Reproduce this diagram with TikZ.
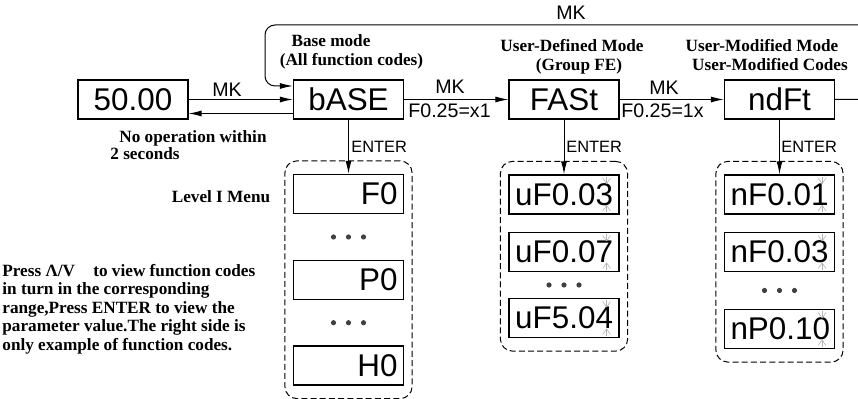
\documentclass[tikz,border=0pt]{standalone}
\usepackage{fontspec}
\setmainfont{Liberation Serif}
\setsansfont{Liberation Sans}
\usetikzlibrary{arrows.meta,calc,fit}

\tikzset{
  lcd/.style={draw, line width=0.6pt, minimum width=55pt, minimum height=19.5pt,
    inner sep=0pt, font=\sffamily\fontsize{15.7}{16}\selectfont},
  cell/.style={lcd, text width=49pt, align=right, inner xsep=3pt},
  grp/.style={draw, dash pattern=on 3pt off 1.6pt, rounded corners=6pt,
    inner xsep=4pt, inner ysep=6.5pt, line width=0.5pt},
  arr/.style={-{Latex[length=6.5pt,width=3pt]}, line width=0.5pt},
  key/.style={font=\sffamily\fontsize{9.8}{10}\selectfont, inner sep=0pt},
  cond/.style={font=\sffamily\fontsize{9.8}{10}\selectfont, inner sep=0pt},
  enter/.style={font=\sffamily\fontsize{8.2}{9}\selectfont, inner sep=0pt},
  note/.style={font=\bfseries\fontsize{8.6}{9.2}\selectfont, inner sep=0pt},
  blinkray/.style={line width=0.3pt, gray!60},
  dotc/.style={black!75}
}

\begin{document}
\begin{tikzpicture}[x=0.5pt,y=-0.5pt]
  \useasboundingbox (0,0) rectangle (858,399);

  % Displays of the top row
  \node[lcd] (disp) at (133,99.5) {50.00};
  \node[lcd] (bASE) at (348.5,99.5) {bASE};
  \node[lcd] (FASt) at (564,99.5) {FASt};
  \node[lcd] (ndFt) at (779.5,99.5) {ndFt};

  % Mode captions
  \node[note,anchor=base] (capB1) at (331,46.7) {Base mode};
  \node[note,anchor=base] (capB2) at (351.5,65.5) {(All function codes)};
  \node[note,anchor=base] (capU1) at (572,52) {User-Defined Mode};
  \node[note,anchor=base] (capU2) at (579,70.5) {(Group FE)};
  \node[note,anchor=base] (capM1) at (762,52) {User-Modified Mode};
  \node[note,anchor=base] (capM2) at (770,70.5) {User-Modified Codes};

  % Links between the displays
  \draw[arr] (disp.east) -- (bASE.west);
  \node[key] (mk1) at (227,90) {MK};
  \draw[arr] ([yshift=-7pt]bASE.west) -- ([yshift=-7pt]disp.east);
  \node[note,anchor=base west] (idle1) at (119,142.7) {No operation within};
  \node[note,anchor=base west] (idle2) at (110,160) {2 seconds};

  \draw[arr] (bASE.east) -- (FASt.west);
  \node[key] (mk2) at (450,87) {MK};
  \node[cond,anchor=west] (c1) at (408,111) {F0.25=x1};

  \draw[arr] (FASt.east) -- (ndFt.west);
  \node[key] (mk3) at (664,88) {MK};
  \node[cond,anchor=west] (c2) at (621,111) {F0.25=1x};

  % Return loop to base mode
  \coordinate (rt) at (875,99.5);
  \coordinate (rtop) at (875,25);
  \coordinate (ltop) at (265,25);
  \coordinate (lbot) at (265,86);
  \draw[arr,rounded corners=5pt] (ndFt.east) -- (rt) -- (rtop) -- (ltop) -- (lbot)
    -- ([yshift=6.75pt]bASE.west);
  \node[key] (mk4) at (571,13) {MK};

  % Level I menu column
  \node[cell] (F0) at (348.5,194) {F0};
  \node[cell] (P0) at (348.5,280) {P0};
  \node[cell] (H0) at (348.5,365.5) {H0};
  \node[grp,fit=(F0)(H0)] (g1) {};
  \draw[arr] (bASE.south) -- (F0.north);
  \node[enter,anchor=west] (e1) at (351,147) {ENTER};

  % User-defined column
  \node[cell] (u1) at (564,194.5) {uF0.03};
  \node[cell] (u2) at (564,252) {uF0.07};
  \node[cell] (u3) at (564,318) {uF5.04};
  \node[grp,fit=(u1)(u3)] (g2) {};
  \draw[arr] (FASt.south) -- (u1.north);
  \node[enter,anchor=west] (e2) at (566,147) {ENTER};

  % User-modified column
  \node[cell] (n1) at (779.5,194.5) {nF0.01};
  \node[cell] (n2) at (779.5,252) {nF0.03};
  \node[cell] (n3) at (779.5,329) {nP0.10};
  \node[grp,fit=(n1)(n3)] (g3) {};
  \draw[arr] (ndFt.south) -- (n1.north);
  \node[enter,anchor=west] (e3) at (781,147) {ENTER};

  % Dots
  \foreach \a/\b in {F0/P0,P0/H0,u2/u3,n2/n3}
    \foreach \i in {-1,0,1}
      \fill[dotc] ($(\a)!0.5!(\b)+(\i*15,0)$) circle (1.3pt);

  % Blinking last digit
  \foreach \c in {u1,u2,u3,n1,n2,n3}{
    \foreach \a in {55,90,125}
      \draw[blinkray] ($(\c.north east)+(-6.5pt,-4.6pt)$) -- ++(\a:3.4pt);
    \foreach \a in {235,270,305}
      \draw[blinkray] ($(\c.south east)+(-6.5pt,4.6pt)$) -- ++(\a:3.4pt);
  }

  % Side notes
  \node[note,anchor=base] (lvl) at (221,203) {Level I Menu};
  \node[note,anchor=north west,align=left] (help) at (2,264) {Press Λ/V\hspace{7pt} to view function codes\\
    in turn in the corresponding\\
    range,Press ENTER to view the\\
    parameter value.The right side is\\
    only example of function codes.};
\end{tikzpicture}
\end{document}
